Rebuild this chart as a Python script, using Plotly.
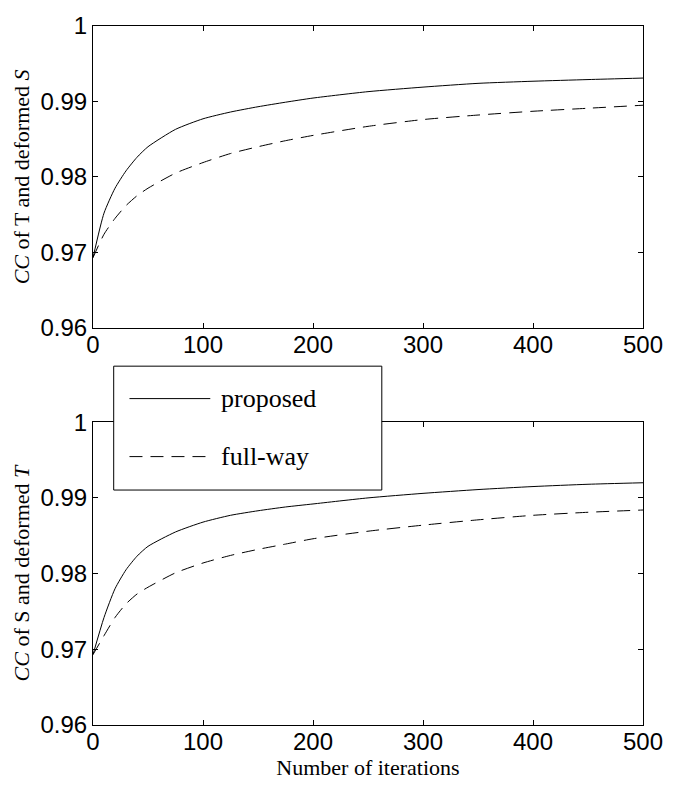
import plotly.graph_objects as go

# ---- data ----
iters = [0, 10, 20, 30, 40, 50, 75, 100, 125, 150, 175, 200, 250, 300, 350, 400, 450, 500]

top_proposed = [0.9693, 0.9752, 0.9785, 0.9808, 0.9826, 0.9840, 0.9863, 0.9877, 0.9886, 0.9893,
                0.9899, 0.99045, 0.9913, 0.9919, 0.9924, 0.99268, 0.9929, 0.9931]
top_fullway = [0.9693, 0.9724, 0.9745, 0.9762, 0.9775, 0.9785, 0.9805, 0.9819, 0.9831, 0.9840,
               0.9848, 0.9855, 0.9867, 0.9876, 0.9882, 0.9887, 0.9891, 0.9895]

bot_proposed = [0.9693, 0.9742, 0.9780, 0.9805, 0.9823, 0.9836, 0.9855, 0.9868, 0.9877, 0.9883,
                0.9888, 0.9892, 0.9900, 0.9906, 0.9911, 0.9915, 0.9918, 0.9920]
bot_fullway = [0.9693, 0.9718, 0.9742, 0.9760, 0.9773, 0.9782, 0.9801, 0.9814, 0.9824, 0.9832,
               0.9839, 0.9846, 0.9856, 0.9864, 0.9871, 0.9877, 0.9881, 0.9884]

x_ticks = [0, 100, 200, 300, 400, 500]
y_ticks = [0.96, 0.97, 0.98, 0.99, 1.0]
y_ticklabels = ["0.96", "0.97", "0.98", "0.99", "1"]

legend_names = ["proposed", "full-way"]
top_ylabel = "<i>CC</i> of T and deformed <i>S</i>"
bot_ylabel = "<i>CC</i> of S and deformed <i>T</i>"
xlabel = "Number of iterations"

# ---- figure ----
W, H = 675, 787
ml, mr, mt, mb = 93, 24, 14, 62
plot_h = H - mt - mb

SANS = "Liberation Sans, Arial, sans-serif"
SERIF = "Liberation Serif, Times New Roman, serif"
DASH = "13px,8px"

fig = go.Figure()
fig.add_trace(go.Scatter(x=iters, y=top_proposed, mode="lines", name=legend_names[0],
                         line=dict(color="black", width=1, shape="spline", smoothing=0.6),
                         xaxis="x", yaxis="y", showlegend=False))
fig.add_trace(go.Scatter(x=iters, y=top_fullway, mode="lines", name=legend_names[1],
                         line=dict(color="black", width=1, dash=DASH, shape="spline", smoothing=0.6),
                         xaxis="x", yaxis="y", showlegend=False))
fig.add_trace(go.Scatter(x=iters, y=bot_proposed, mode="lines", name=legend_names[0],
                         line=dict(color="black", width=1, shape="spline", smoothing=0.6),
                         xaxis="x2", yaxis="y2", showlegend=False))
fig.add_trace(go.Scatter(x=iters, y=bot_fullway, mode="lines", name=legend_names[1],
                         line=dict(color="black", width=1, dash=DASH, shape="spline", smoothing=0.6),
                         xaxis="x2", yaxis="y2", showlegend=False))

def to_py(px_from_top):
    return (H - mb - px_from_top) / plot_h

def to_px(px_from_left):
    return (px_from_left - ml) / (W - ml - mr)

axis_common = dict(showgrid=False, zeroline=False, showline=True, linecolor="black", linewidth=1,
                   mirror="ticks", ticks="inside", ticklen=5, tickcolor="black", tickwidth=1,
                   tickfont=dict(family=SANS, size=24, color="black"))

top_dom = [to_py(321), 1.0]
bot_dom = [0.0, to_py(417)]

fig.update_layout(
    width=W, height=H,
    margin=dict(l=ml, r=mr, t=mt, b=mb),
    paper_bgcolor="white", plot_bgcolor="white",
    xaxis=dict(domain=[0, 1], anchor="y", range=[0, 500], tickvals=x_ticks,
               ticklabelstandoff=-5, **axis_common),
    yaxis=dict(domain=top_dom, anchor="x", range=[0.96, 1.0], tickvals=y_ticks, ticktext=y_ticklabels,
               title=dict(text=top_ylabel, font=dict(family=SERIF, size=22, color="black"), standoff=4),
               **axis_common),
    xaxis2=dict(domain=[0, 1], anchor="y2", range=[0, 500], tickvals=x_ticks, ticklabelstandoff=-5,
                title=dict(text=xlabel, font=dict(family=SERIF, size=22, color="black"), standoff=2),
                **axis_common),
    yaxis2=dict(domain=bot_dom, anchor="x2", range=[0.96, 1.0], tickvals=y_ticks, ticktext=y_ticklabels,
                title=dict(text=bot_ylabel, font=dict(family=SERIF, size=22, color="black"), standoff=4),
                **axis_common),
)

# legend box (drawn manually to match the long line samples)
bx0, bx1 = to_px(114), to_px(386)
by0, by1 = to_py(486), to_py(360)
fig.add_shape(type="rect", xref="paper", yref="paper", x0=bx0, x1=bx1, y0=by0, y1=by1,
              line=dict(color="black", width=1), fillcolor="white", layer="above")
sample_x0, sample_x1 = to_px(130), to_px(212)
rows = [to_py(393), to_py(452)]
dashes = ["solid", DASH]
for name, yy, d in zip(legend_names, rows, dashes):
    fig.add_shape(type="line", xref="paper", yref="paper", x0=sample_x0, x1=sample_x1, y0=yy, y1=yy,
                  line=dict(color="black", width=1, dash=d), layer="above")
    fig.add_annotation(xref="paper", yref="paper", x=to_px(221), y=yy, text=name, showarrow=False,
                       xanchor="left", yanchor="middle", font=dict(family=SERIF, size=26, color="black"))

fig.write_html("out.html", post_script="document.body.style.margin='0';",
               config={"displayModeBar": False})
